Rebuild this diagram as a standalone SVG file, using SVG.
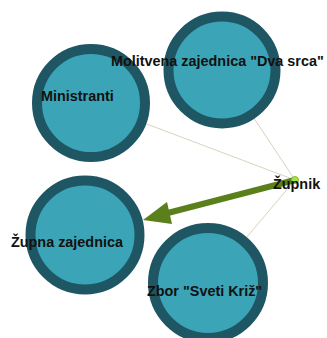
<svg xmlns="http://www.w3.org/2000/svg" width="327" height="338" viewBox="0 0 327 338">
<style>
.n{fill:#3ba4b7;stroke:#1e5663;stroke-width:10}
.t{font-family:"Liberation Sans",Arial,sans-serif;font-weight:bold;font-size:14.4px;fill:#111}
.e{stroke:#d9d2bd;stroke-width:1;fill:none}
</style>
<rect width="327" height="338" fill="#fff"/>
<g id="connectors">
<line class="e" x1="295" y1="180" x2="91" y2="103"/>
<line class="e" x1="295" y1="180" x2="222" y2="70"/>
<line class="e" x1="295" y1="180" x2="208" y2="283"/>
</g>
<g id="node-ministranti"><circle class="n" cx="91" cy="103" r="54"/><text class="t" x="41" y="101">Ministranti</text></g>
<g id="node-molitvena"><circle class="n" cx="222" cy="70" r="53.5"/><text class="t" x="111" y="66">Molitvena zajednica "Dva srca"</text></g>
<g id="node-zupna"><circle class="n" cx="85" cy="235" r="54.5"/><text class="t" x="11" y="247">Župna zajednica</text></g>
<g id="node-zbor"><circle class="n" cx="208" cy="283" r="55"/><text class="t" x="147" y="296">Zbor "Sveti Križ"</text></g>
<g id="arrow">
<line x1="295" y1="180" x2="160" y2="215" stroke="#5b7f1b" stroke-width="6"/>
<polygon points="143,220 167,202 172,224" fill="#5b7f1b"/>
</g>
<g id="node-zupnik"><circle cx="295" cy="180" r="3.5" fill="#a6e24b" stroke="#7fbf2a" stroke-width="1"/><text class="t" x="273" y="189">Župnik</text></g>
</svg>
